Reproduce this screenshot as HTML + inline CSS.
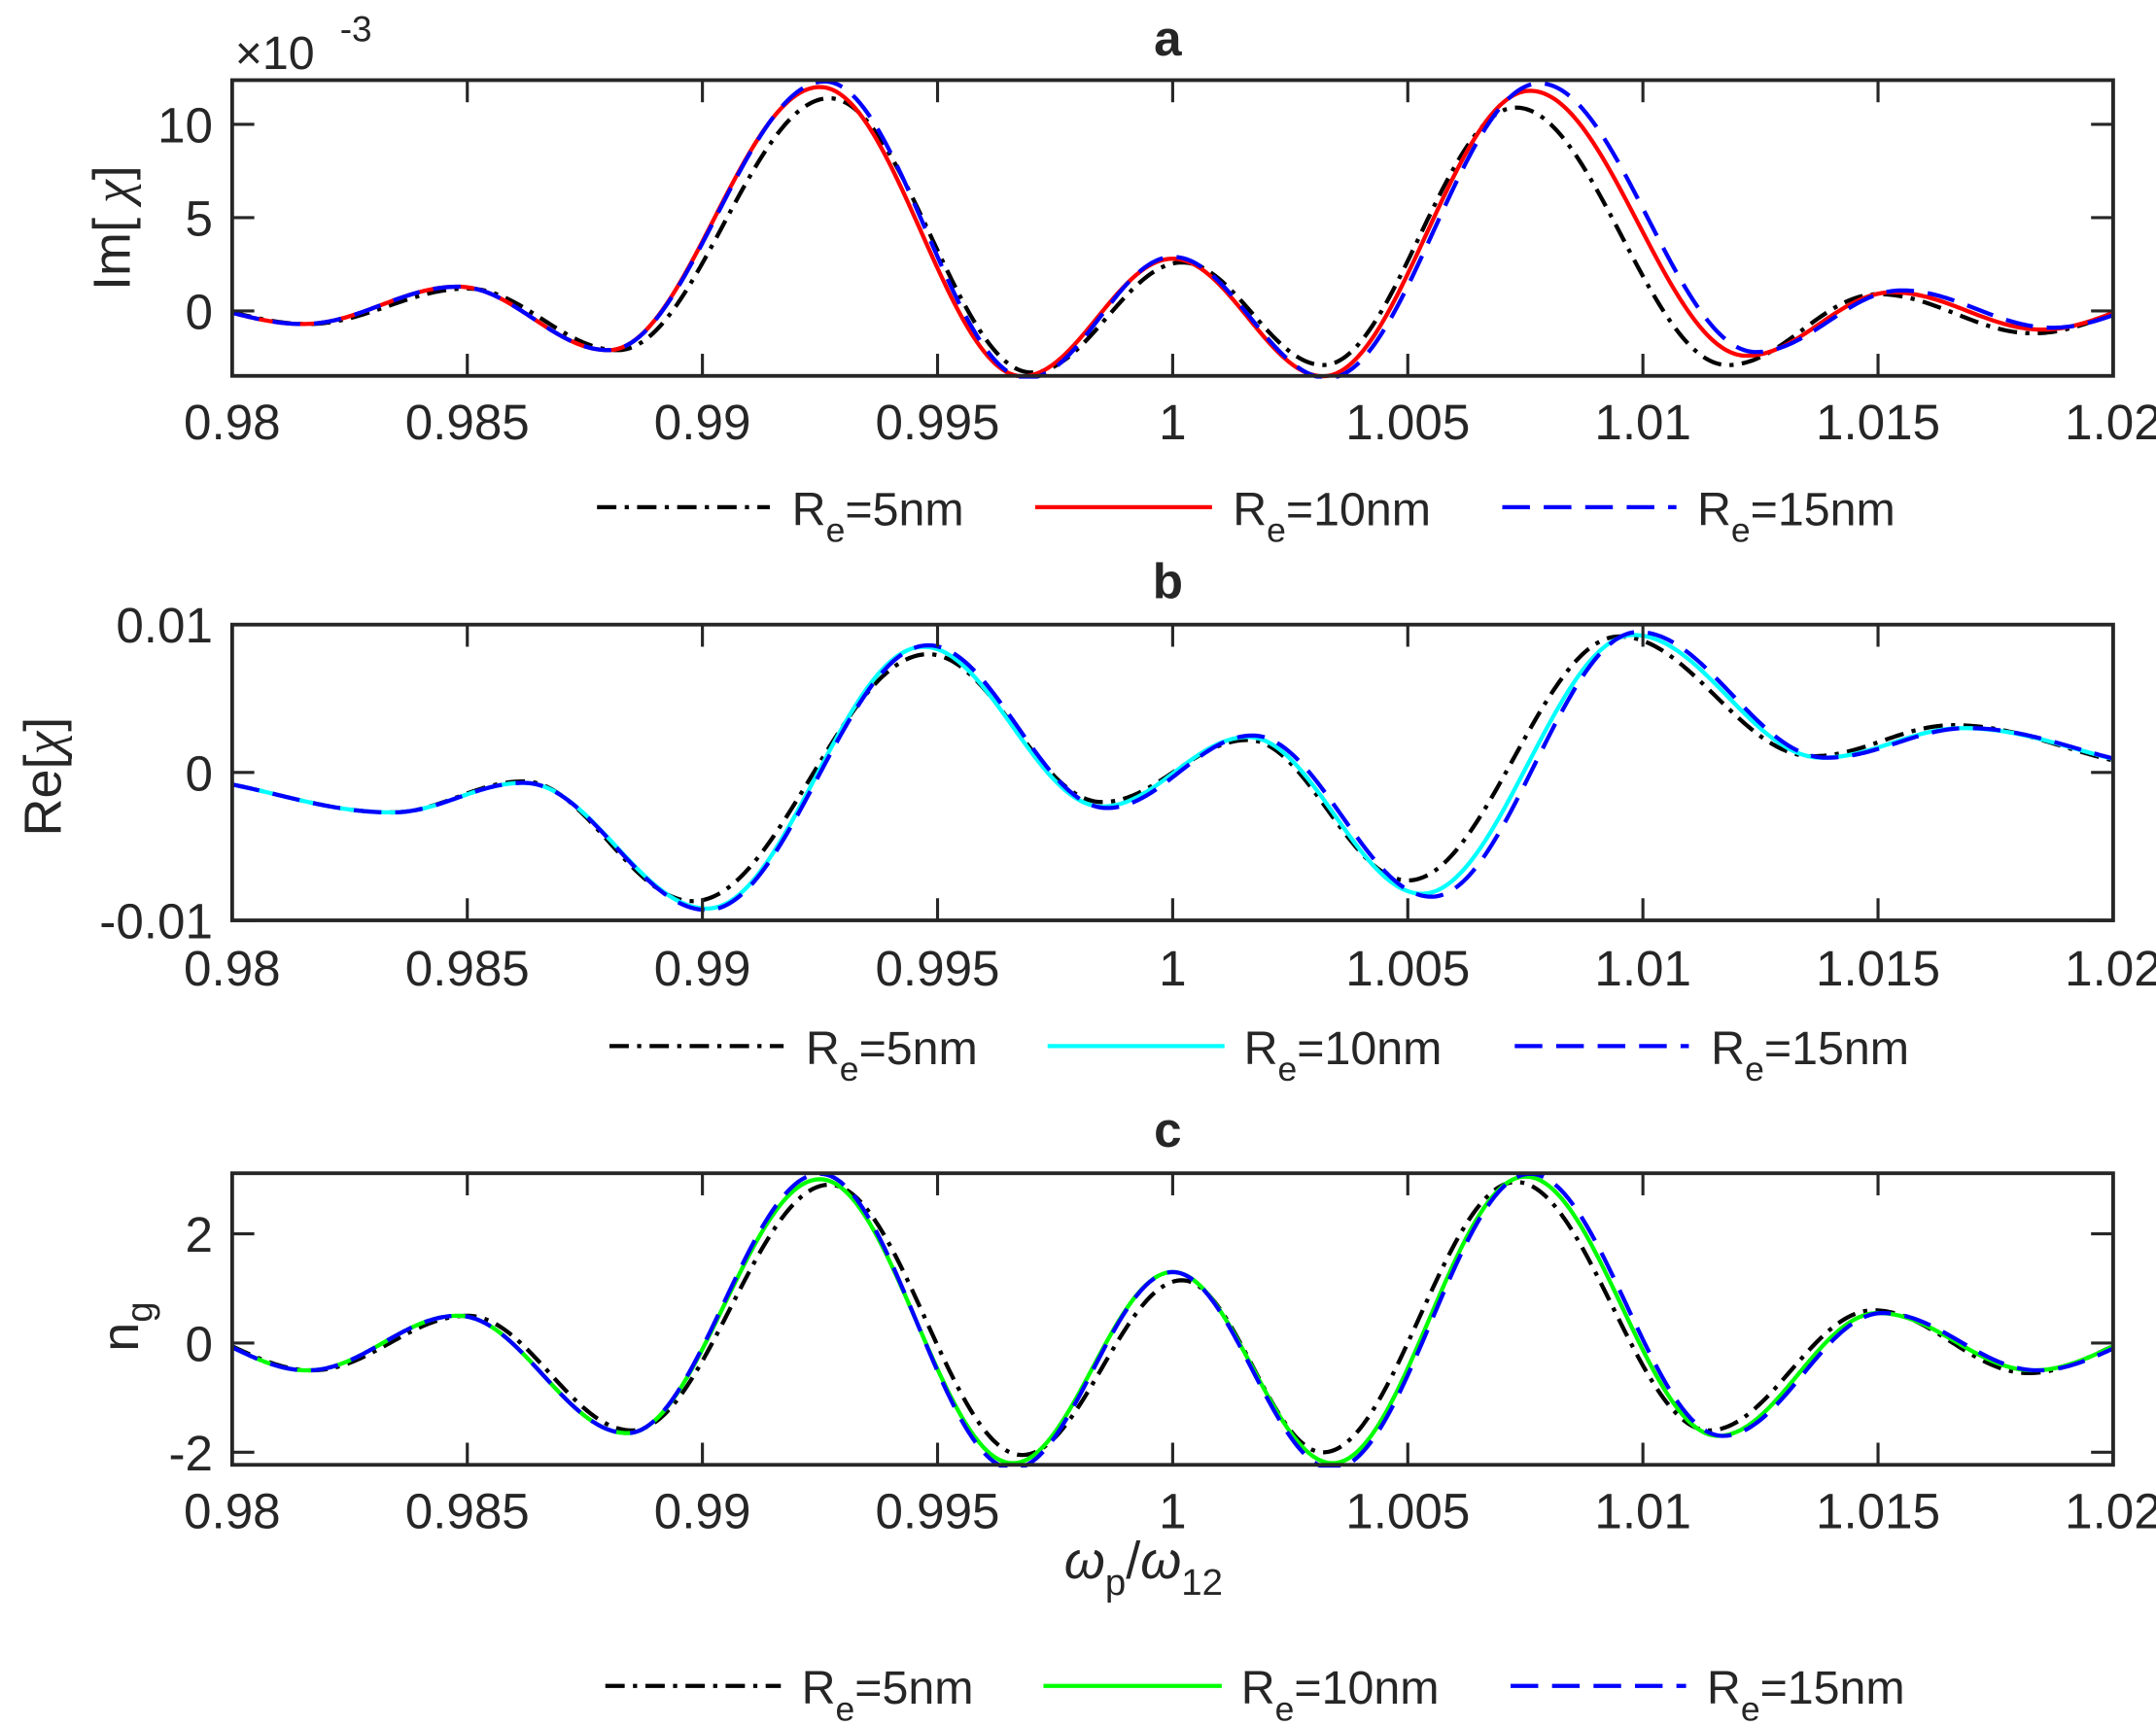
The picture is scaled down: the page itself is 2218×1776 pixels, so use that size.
<!DOCTYPE html>
<html><head><meta charset="utf-8"><style>
html,body{margin:0;padding:0;background:#fff}
svg{display:block}
text{font-family:"Liberation Sans",Arial,sans-serif;fill:#262626}
</style></head><body>
<svg id="s" width="2218" height="1776" viewBox="0 0 1560 1249" preserveAspectRatio="none" xmlns="http://www.w3.org/2000/svg">
<rect width="1560" height="1249" fill="#fff"/>
<g id="g"></g>
<text x="845" y="40" font-size="36" font-weight="bold" text-anchor="middle" fill="#000">a</text>
<text x="845" y="433" font-size="36" font-weight="bold" text-anchor="middle" fill="#000">b</text>
<text x="845" y="830" font-size="36" font-weight="bold" text-anchor="middle" fill="#000">c</text>
<text x="170" y="50" font-size="34">×10</text><text x="246" y="30" font-size="26">-3</text>
<text transform="translate(94,165) rotate(-90)" font-size="38" text-anchor="middle">Im[ <tspan font-family="Liberation Serif" font-style="italic">χ</tspan>]</text>
<text transform="translate(44,562) rotate(-90)" font-size="38" text-anchor="middle">Re[<tspan font-family="Liberation Serif" font-style="italic">χ</tspan>]</text>
<text transform="translate(100,960) rotate(-90)" font-size="38" text-anchor="middle">n<tspan font-size="27" dy="10">g</tspan></text>
<text x="770" y="1142" font-size="38" font-family="Liberation Serif" font-style="italic">ω<tspan font-size="27" dy="12" font-family="Liberation Sans" font-style="normal">p</tspan><tspan dy="-12" font-family="Liberation Sans" font-style="normal">/</tspan>ω<tspan font-size="27" dy="12" font-family="Liberation Sans" font-style="normal">12</tspan></text>
</svg>
<script>
var NS="http://www.w3.org/2000/svg",G=document.getElementById("g");
function el(t,a,txt){var e=document.createElementNS(NS,t);for(var k in a)e.setAttribute(k,a[k]);if(txt!==undefined)e.textContent=txt;G.appendChild(e);return e;}
var X0=168,X1=1529;
function px(x){return X0+(x-0.98)/0.04*(X1-X0);}
function interp(pts,x){for(var i=0;i<pts.length-1;i++){if(x>=pts[i][0]&&x<=pts[i+1][0]){var t=(x-pts[i][0])/(pts[i+1][0]-pts[i][0]);return pts[i][1]+(pts[i+1][1]-pts[i][1])*(1-Math.cos(Math.PI*t))/2;}}return pts[pts.length-1][1];}
var BK="14 6 3 6",BL="20 10";
var panels=[
{top:58,bot:272,ymax:12.37,ymin:-3.48,ticks:[[10,"10"],[5,"5"],[0,"0"]],lab:305,leg:367,legx:[[432,557,573],[749,877,892],[1087,1213,1228]],col:"#ff0000",
 k:[[0.9785,0.5],[0.9816,-0.7],[0.985,1.2],[0.9882,-2.1],[0.9927,11.4],[0.997,-3.3],[1.0002,2.6],[1.0032,-2.9],[1.0073,10.9],[1.0118,-2.9],[1.015,0.9],[1.0183,-1.2],[1.0213,0.5]],
 r:[[0.9785,0.5],[0.9815,-0.7],[0.9848,1.3],[0.988,-2.1],[0.9925,12.0],[0.9968,-3.5],[1.0,2.8],[1.0032,-3.5],[1.0076,11.8],[1.0122,-2.4],[1.0153,1.0],[1.0185,-1.0],[1.0215,0.8]],
 b:[[0.9785,0.5],[0.9815,-0.7],[0.9848,1.3],[0.988,-2.1],[0.9926,12.3],[0.9969,-3.6],[1.0,2.9],[1.0033,-3.6],[1.0078,12.2],[1.0124,-2.2],[1.0155,1.1],[1.0187,-0.9],[1.0217,0.8]]},
{top:452,bot:666,ymax:10,ymin:-10,ticks:[[10,"0.01"],[0,"0"],[-10,"-0.01"]],lab:700,leg:757,legx:[[441,567,583],[758,886,900],[1096,1222,1238]],col:"#00ffff",
 k:[[0.9785,-0.3],[0.9834,-2.7],[0.9862,-0.6],[0.9898,-8.7],[0.9948,8.0],[0.9985,-2.0],[1.0016,2.2],[1.005,-7.3],[1.0095,9.2],[1.0136,1.1],[1.0166,3.2],[1.0213,0.3]],
 r:[[0.9785,-0.3],[0.9834,-2.7],[0.9862,-0.7],[0.9901,-9.2],[0.9947,8.5],[0.9985,-2.3],[1.0016,2.4],[1.0053,-8.2],[1.0098,9.3],[1.0138,1.0],[1.0168,3.0],[1.0215,0.3]],
 b:[[0.9785,-0.3],[0.9834,-2.7],[0.9862,-0.7],[0.9901,-9.3],[0.9948,8.6],[0.9986,-2.4],[1.0017,2.5],[1.0055,-8.4],[1.0099,9.5],[1.0139,1.0],[1.0169,3.0],[1.0215,0.3]]},
{top:849,bot:1060,ymax:3.11,ymin:-2.23,ticks:[[2,"2"],[0,"0"],[-2,"-2"]],lab:1093,leg:1220,legx:[[438,565,580],[755,884,898],[1093,1220,1235]],col:"#00ff00",
 k:[[0.9785,0.3],[0.9817,-0.5],[0.985,0.5],[0.9885,-1.6],[0.9927,2.9],[0.9968,-2.05],[1.0002,1.15],[1.0032,-2.0],[1.0073,2.95],[1.0114,-1.6],[1.0149,0.6],[1.0182,-0.55],[1.0212,0.2]],
 r:[[0.9785,0.3],[0.9816,-0.5],[0.9848,0.5],[0.9884,-1.65],[0.9925,3.0],[0.9966,-2.2],[1.0,1.3],[1.0034,-2.2],[1.0075,3.05],[1.0116,-1.7],[1.015,0.55],[1.0183,-0.5],[1.0215,0.3]],
 b:[[0.9785,0.3],[0.9816,-0.5],[0.9848,0.5],[0.9884,-1.65],[0.9925,3.1],[0.9966,-2.3],[1.0,1.3],[1.0034,-2.3],[1.0076,3.1],[1.0117,-1.7],[1.0151,0.55],[1.0184,-0.5],[1.0216,0.3]]}
];
panels.forEach(function(p,i){
 function py(v){return p.top+(p.ymax-v)/(p.ymax-p.ymin)*(p.bot-p.top);}
 var cid="c"+i;
 var cp=el("clipPath",{id:cid});var r=document.createElementNS(NS,"rect");r.setAttribute("x",X0);r.setAttribute("y",p.top-2);r.setAttribute("width",X1-X0);r.setAttribute("height",p.bot-p.top+4);cp.appendChild(r);
 function path(pts){var d="";for(var j=0;j<=800;j++){var x=0.98+0.04*j/800;d+=(j?"L":"M")+px(x).toFixed(2)+","+py(interp(pts,x)).toFixed(2);}return d;}
 el("path",{d:path(p.k),fill:"none",stroke:"#000","stroke-width":3,"stroke-dasharray":BK,"clip-path":"url(#"+cid+")"});
 el("path",{d:path(p.r),fill:"none",stroke:p.col,"stroke-width":3,"clip-path":"url(#"+cid+")"});
 el("path",{d:path(p.b),fill:"none",stroke:"#0000ff","stroke-width":3,"stroke-dasharray":BL,"clip-path":"url(#"+cid+")"});
 el("rect",{x:X0,y:p.top,width:X1-X0,height:p.bot-p.top,fill:"none",stroke:"#262626","stroke-width":2.7});
 var xl=["0.98","0.985","0.99","0.995","1","1.005","1.01","1.015","1.02"];
 xl.forEach(function(s,j){var x=px(0.98+0.005*j);
  el("line",{x1:x,y1:p.bot,x2:x,y2:p.bot-16,stroke:"#262626","stroke-width":2.2});
  el("line",{x1:x,y1:p.top,x2:x,y2:p.top+16,stroke:"#262626","stroke-width":2.2});
  el("text",{x:x,y:p.lab+13,"font-size":36,"text-anchor":"middle"},s);});
 p.ticks.forEach(function(t){var y=py(t[0]);
  el("line",{x1:X0,y1:y,x2:X0+16,y2:y,stroke:"#262626","stroke-width":2.2});
  el("line",{x1:X1,y1:y,x2:X1-16,y2:y,stroke:"#262626","stroke-width":2.2});
  el("text",{x:X0-14,y:y+13,"font-size":36,"text-anchor":"end"},t[1]);});
 var cols=[["#000",BK],[p.col,""],["#0000ff",BL]],labs=["5nm","10nm","15nm"];
 p.legx.forEach(function(L,j){
  var a={x1:L[0],y1:p.leg,x2:L[1],y2:p.leg,stroke:cols[j][0],"stroke-width":3};if(cols[j][1])a["stroke-dasharray"]=cols[j][1];el("line",a);
  var t=el("text",{x:L[2],y:p.leg+13,"font-size":34});
  t.innerHTML='R<tspan font-size="25" dy="12">e</tspan><tspan dy="-12">='+labs[j]+'</tspan>';});
});
</script>
</body></html>
